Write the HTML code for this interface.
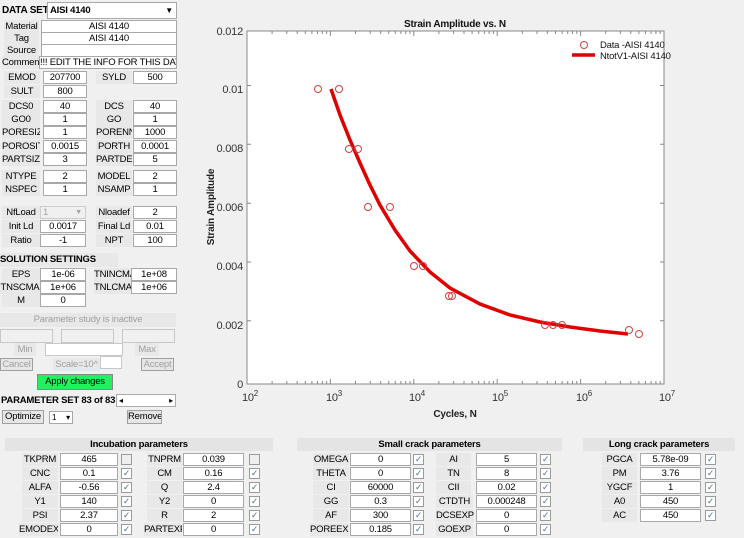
<!DOCTYPE html>
<html><head><meta charset="utf-8"><style>
body{margin:0;width:744px;height:538px;background:#f0f0f0;position:relative;overflow:hidden;font-family:"Liberation Sans",Arial,sans-serif;font-size:9.5px;color:#000;letter-spacing:-0.2px}
div{position:absolute;box-sizing:border-box;white-space:nowrap;overflow:hidden}
.l{background:#e8e8e8;text-align:center;height:13px;line-height:13px}
.i{background:#fff;border:1px solid #a8a8a8;text-align:center;height:13px;line-height:11px}
.c{background:#fff;border:1px solid #9a9a9a;width:11px;height:11px;font-size:9px;line-height:9px;text-align:center;color:#5570a0}
.b{font-weight:bold}
.g{color:#a0a0a0}
.btn{border:1px solid #a0a0a0;background:#e6e6e6;text-align:center;line-height:12px;height:14px}
.h{background:#e4e4e4;font-weight:bold;text-align:center;height:13px;line-height:13px}
</style></head><body>
<div class="b" style="left:2px;top:5px;font-size:10px">DATA SET</div>
<div class="i b" style="left:47px;top:2px;width:130px;height:17px;text-align:left;padding-left:2px;line-height:15px">AISI 4140<span style="position:absolute;right:3px;font-size:8px">▼</span></div>
<div class="l" style="left:4px;top:20px;width:35px">Material</div><div class="i" style="left:41px;top:20px;width:136px">AISI 4140</div>
<div class="l" style="left:4px;top:32px;width:35px">Tag</div><div class="i" style="left:41px;top:32px;width:136px">AISI 4140</div>
<div class="l" style="left:4px;top:44px;width:35px">Source</div><div class="i" style="left:41px;top:44px;width:136px"></div>
<div class="l" style="left:2px;top:56px;width:38px;text-align:left">Comment</div><div class="i" style="left:39px;top:56px;width:138px;text-align:left">!!! EDIT THE INFO FOR THIS DAT</div>

<div class="l" style="left:4px;top:71px;width:36px">EMOD</div><div class="i" style="left:43px;top:71px;width:44px">207700</div>
<div class="l" style="left:96px;top:71px;width:36px">SYLD</div><div class="i" style="left:133px;top:71px;width:44px">500</div>
<div class="l" style="left:4px;top:85px;width:36px">SULT</div><div class="i" style="left:43px;top:85px;width:44px">800</div>

<div class="l" style="left:2px;top:100px;width:38px">DCS0</div><div class="i" style="left:43px;top:100px;width:44px">40</div>
<div class="l" style="left:96px;top:100px;width:36px">DCS</div><div class="i" style="left:133px;top:100px;width:44px">40</div>
<div class="l" style="left:2px;top:113px;width:38px">GO0</div><div class="i" style="left:43px;top:113px;width:44px">1</div>
<div class="l" style="left:96px;top:113px;width:36px">GO</div><div class="i" style="left:133px;top:113px;width:44px">1</div>
<div class="l" style="left:2px;top:126px;width:38px;text-align:left">PORESIZ</div><div class="i" style="left:43px;top:126px;width:44px">1</div>
<div class="l" style="left:96px;top:126px;width:36px;text-align:left">PORENN</div><div class="i" style="left:133px;top:126px;width:44px">1000</div>
<div class="l" style="left:2px;top:140px;width:38px;text-align:left">POROSIT</div><div class="i" style="left:43px;top:140px;width:44px">0.0015</div>
<div class="l" style="left:96px;top:140px;width:36px">PORTH</div><div class="i" style="left:133px;top:140px;width:44px">0.0001</div>
<div class="l" style="left:2px;top:153px;width:38px;text-align:left">PARTSIZ</div><div class="i" style="left:43px;top:153px;width:44px">3</div>
<div class="l" style="left:96px;top:153px;width:36px;text-align:left">PARTDE</div><div class="i" style="left:133px;top:153px;width:44px">5</div>

<div class="l" style="left:2px;top:170px;width:38px">NTYPE</div><div class="i" style="left:43px;top:170px;width:44px">2</div>
<div class="l" style="left:96px;top:170px;width:36px">MODEL</div><div class="i" style="left:133px;top:170px;width:44px">2</div>
<div class="l" style="left:2px;top:183px;width:38px">NSPEC</div><div class="i" style="left:43px;top:183px;width:44px">1</div>
<div class="l" style="left:96px;top:183px;width:36px">NSAMP</div><div class="i" style="left:133px;top:183px;width:44px">1</div>

<div class="l" style="left:2px;top:206px;width:38px">NfLoad</div><div class="i g" style="left:40px;top:206px;width:46px;text-align:left;padding-left:2px;background:#f0f0f0;border-color:#ccc">1<span style="position:absolute;right:3px;font-size:7px">▼</span></div>
<div class="l" style="left:96px;top:206px;width:36px">Nloadef</div><div class="i" style="left:133px;top:206px;width:44px">2</div>
<div class="l" style="left:2px;top:220px;width:38px">Init Ld</div><div class="i" style="left:40px;top:220px;width:46px">0.0017</div>
<div class="l" style="left:96px;top:220px;width:36px">Final Ld</div><div class="i" style="left:133px;top:220px;width:44px">0.01</div>
<div class="l" style="left:2px;top:234px;width:38px">Ratio</div><div class="i" style="left:40px;top:234px;width:46px">-1</div>
<div class="l" style="left:96px;top:234px;width:36px">NPT</div><div class="i" style="left:133px;top:234px;width:44px">100</div>

<div class="b" style="left:0px;top:253px;width:118px;background:#e8e8e8;height:14px;line-height:14px">SOLUTION SETTINGS</div>
<div class="l" style="left:2px;top:268px;width:38px">EPS</div><div class="i" style="left:40px;top:268px;width:46px">1e-06</div>
<div class="l" style="left:94px;top:268px;width:38px;text-align:left">TNINCMA</div><div class="i" style="left:131px;top:268px;width:46px">1e+08</div>
<div class="l" style="left:0px;top:281px;width:40px">TNSCMA</div><div class="i" style="left:40px;top:281px;width:46px">1e+06</div>
<div class="l" style="left:94px;top:281px;width:38px;text-align:left">TNLCMA</div><div class="i" style="left:131px;top:281px;width:46px">1e+06</div>
<div class="l" style="left:2px;top:294px;width:38px">M</div><div class="i" style="left:40px;top:294px;width:46px">0</div>

<div class="g" style="left:0px;top:313px;width:176px;text-align:center;background:#e8e8e8;height:14px;line-height:14px">Parameter study is inactive</div>
<div class="i" style="left:0px;top:329px;width:53px;height:14px;background:#f0f0f0;border-color:#c8c8c8"></div>
<div class="i" style="left:61px;top:329px;width:53px;height:14px;background:#f0f0f0;border-color:#c8c8c8"></div>
<div class="i" style="left:122px;top:329px;width:53px;height:14px;background:#f0f0f0;border-color:#c8c8c8"></div>
<div class="g l" style="left:14px;top:343px;width:22px">Min</div>
<div class="i" style="left:45px;top:343px;width:78px;height:13px;border-color:#c8c8c8"></div>
<div class="g l" style="left:135px;top:343px;width:24px">Max</div>
<div class="btn g" style="left:0px;top:358px;width:33px;height:13px">Cancel</div>
<div class="g l" style="left:53px;top:358px;width:47px">Scale=10^</div>
<div class="i" style="left:100px;top:356px;width:22px;border-color:#c8c8c8"></div>
<div class="btn g" style="left:141px;top:358px;width:33px;height:13px">Accept</div>
<div class="btn" style="left:37px;top:374px;width:76px;height:16px;line-height:14px;background:#22f060;border-color:#888">Apply changes</div>
<div class="b" style="left:1px;top:395px;font-size:9.5px">PARAMETER SET 83 of 83</div>
<div class="i" style="left:116px;top:394px;width:60px;border-color:#aaa;text-align:left;font-size:8px">&nbsp;◂<span style="position:absolute;right:2px">▸</span></div>
<div class="btn" style="left:2px;top:410px;width:42px">Optimize</div>
<div class="i" style="left:49px;top:411px;width:24px;text-align:left;font-size:8px;padding-left:2px">1 <span style="position:absolute;right:2px">▾</span></div>
<div class="btn" style="left:127px;top:410px;width:35px">Remove</div>

<svg style="position:absolute;left:0;top:0" width="744" height="538">
<rect x="247" y="31" width="417" height="353" fill="#fff" stroke="#888"/>
<g stroke="#888" stroke-width="1">
<path d="M247,85.5h4M664,85.5h-4M247,144.3h4M664,144.3h-4M247,203.2h4M664,203.2h-4M247,262h4M664,262h-4M247,320.8h4M664,320.8h-4"/>
<path d="M330.4,384v-5M413.8,384v-5M497.2,384v-5M580.6,384v-5M330.4,31v5M413.8,31v5M497.2,31v5M580.6,31v5"/>
<path d="M272.1,384v-3M286.8,384v-3M297.2,384v-3M305.3,384v-3M311.9,384v-3M317.5,384v-3M322.3,384v-3M326.6,384v-3M355.5,384v-3M370.2,384v-3M380.6,384v-3M388.7,384v-3M395.3,384v-3M400.9,384v-3M405.7,384v-3M410,384v-3M438.9,384v-3M453.6,384v-3M464,384v-3M472.1,384v-3M478.7,384v-3M484.3,384v-3M489.1,384v-3M493.4,384v-3M522.3,384v-3M537,384v-3M547.4,384v-3M555.5,384v-3M562.1,384v-3M567.7,384v-3M572.5,384v-3M576.8,384v-3M605.7,384v-3M620.4,384v-3M630.8,384v-3M638.9,384v-3M645.5,384v-3M651.1,384v-3M655.9,384v-3M660.2,384v-3"/>
<path d="M272.1,31v3M286.8,31v3M297.2,31v3M305.3,31v3M311.9,31v3M317.5,31v3M322.3,31v3M326.6,31v3M355.5,31v3M370.2,31v3M380.6,31v3M388.7,31v3M395.3,31v3M400.9,31v3M405.7,31v3M410,31v3M438.9,31v3M453.6,31v3M464,31v3M472.1,31v3M478.7,31v3M484.3,31v3M489.1,31v3M493.4,31v3M522.3,31v3M537,31v3M547.4,31v3M555.5,31v3M562.1,31v3M567.7,31v3M572.5,31v3M576.8,31v3M605.7,31v3M620.4,31v3M630.8,31v3M638.9,31v3M645.5,31v3M651.1,31v3M655.9,31v3M660.2,31v3"/>
</g>
<g font-family="Liberation Sans,Arial,sans-serif" font-size="11" fill="#333" text-anchor="end">
<text x="243" y="35">0.012</text><text x="243" y="93">0.01</text><text x="243" y="152">0.008</text><text x="243" y="211">0.006</text><text x="243" y="270">0.004</text><text x="243" y="329">0.002</text><text x="243" y="388">0</text>
</g>
<g font-family="Liberation Sans,Arial,sans-serif" font-size="11" fill="#333" text-anchor="middle">
<text x="250" y="401">10<tspan font-size="8" dy="-5">2</tspan></text>
<text x="334" y="401">10<tspan font-size="8" dy="-5">3</tspan></text>
<text x="417" y="401">10<tspan font-size="8" dy="-5">4</tspan></text>
<text x="500" y="401">10<tspan font-size="8" dy="-5">5</tspan></text>
<text x="584" y="401">10<tspan font-size="8" dy="-5">6</tspan></text>
<text x="667" y="401">10<tspan font-size="8" dy="-5">7</tspan></text>
</g>
<text x="455" y="417" font-family="Liberation Sans,Arial,sans-serif" font-size="10" font-weight="bold" text-anchor="middle" fill="#222">Cycles, N</text>
<text x="455" y="27" font-family="Liberation Sans,Arial,sans-serif" font-size="10" font-weight="bold" text-anchor="middle" fill="#111">Strain Amplitude vs. N</text>
<text transform="translate(214,207) rotate(-90)" font-family="Liberation Sans,Arial,sans-serif" font-size="10" font-weight="bold" text-anchor="middle" fill="#222">Strain Amplitude</text>
<polyline fill="none" stroke="#e00000" stroke-width="3.5" points="331,89 340,115 350,140 360,163 370,185 380,205 395,230 410,251 430,272 450,288 480,304 510,315 540,322 570,327 600,331 628,334"/>
<g fill="none" stroke="#d04040" stroke-width="1">
<circle cx="318" cy="89" r="3.5"/><circle cx="339" cy="89" r="3.5"/><circle cx="349" cy="149" r="3.5"/><circle cx="358" cy="149" r="3.5"/><circle cx="368" cy="207" r="3.5"/><circle cx="390" cy="207" r="3.5"/><circle cx="414" cy="266" r="3.5"/><circle cx="423" cy="266" r="3.5"/><circle cx="449" cy="296" r="3.5"/><circle cx="452" cy="296" r="3.5"/><circle cx="545" cy="325" r="3.5"/><circle cx="553" cy="325" r="3.5"/><circle cx="562" cy="325" r="3.5"/><circle cx="629" cy="330" r="3.5"/><circle cx="639" cy="334" r="3.5"/>
<circle cx="584" cy="45" r="3.5"/>
</g>
<line x1="572" y1="55" x2="595" y2="55" stroke="#e00000" stroke-width="3.5"/>
<g font-family="Liberation Sans,Arial,sans-serif" font-size="9.5" fill="#111"><text x="600" y="48">Data -AISI 4140</text><text x="600" y="59">NtotV1-AISI 4140</text></g>
</svg>

<div class="h" style="left:5px;top:438px;width:268px">Incubation parameters</div>
<div class="h" style="left:297px;top:438px;width:265px">Small crack parameters</div>
<div class="h" style="left:583px;top:438px;width:152px">Long crack parameters</div>

<div class="l" style="left:22px;top:453px;width:36px">TKPRM</div><div class="i" style="left:60px;top:453px;width:58px">465</div><div class="c" style="left:121px;top:454px;background:#eee"></div>
<div class="l" style="left:22px;top:467px;width:36px">CNC</div><div class="i" style="left:60px;top:467px;width:58px">0.1</div><div class="c" style="left:121px;top:468px">✓</div>
<div class="l" style="left:22px;top:481px;width:36px">ALFA</div><div class="i" style="left:60px;top:481px;width:58px">-0.56</div><div class="c" style="left:121px;top:482px">✓</div>
<div class="l" style="left:22px;top:495px;width:36px">Y1</div><div class="i" style="left:60px;top:495px;width:58px">140</div><div class="c" style="left:121px;top:496px">✓</div>
<div class="l" style="left:22px;top:509px;width:36px">PSI</div><div class="i" style="left:60px;top:509px;width:58px">2.37</div><div class="c" style="left:121px;top:510px">✓</div>
<div class="l" style="left:19px;top:523px;width:39px;text-align:left">EMODEX</div><div class="i" style="left:60px;top:523px;width:58px">0</div><div class="c" style="left:121px;top:524px">✓</div>

<div class="l" style="left:147px;top:453px;width:35px">TNPRM</div><div class="i" style="left:183px;top:453px;width:61px">0.039</div><div class="c" style="left:249px;top:454px;background:#eee"></div>
<div class="l" style="left:147px;top:467px;width:35px">CM</div><div class="i" style="left:183px;top:467px;width:61px">0.16</div><div class="c" style="left:249px;top:468px">✓</div>
<div class="l" style="left:147px;top:481px;width:35px">Q</div><div class="i" style="left:183px;top:481px;width:61px">2.4</div><div class="c" style="left:249px;top:482px">✓</div>
<div class="l" style="left:147px;top:495px;width:35px">Y2</div><div class="i" style="left:183px;top:495px;width:61px">0</div><div class="c" style="left:249px;top:496px">✓</div>
<div class="l" style="left:147px;top:509px;width:35px">R</div><div class="i" style="left:183px;top:509px;width:61px">2</div><div class="c" style="left:249px;top:510px">✓</div>
<div class="l" style="left:144px;top:523px;width:38px;text-align:left">PARTEXP</div><div class="i" style="left:183px;top:523px;width:61px">0</div><div class="c" style="left:249px;top:524px">✓</div>

<div class="l" style="left:313px;top:453px;width:36px">OMEGA</div><div class="i" style="left:350px;top:453px;width:61px">0</div><div class="c" style="left:413px;top:454px">✓</div>
<div class="l" style="left:313px;top:467px;width:36px">THETA</div><div class="i" style="left:350px;top:467px;width:61px">0</div><div class="c" style="left:413px;top:468px">✓</div>
<div class="l" style="left:313px;top:481px;width:36px">CI</div><div class="i" style="left:350px;top:481px;width:61px">60000</div><div class="c" style="left:413px;top:482px">✓</div>
<div class="l" style="left:313px;top:495px;width:36px">GG</div><div class="i" style="left:350px;top:495px;width:61px">0.3</div><div class="c" style="left:413px;top:496px">✓</div>
<div class="l" style="left:313px;top:509px;width:36px">AF</div><div class="i" style="left:350px;top:509px;width:61px">300</div><div class="c" style="left:413px;top:510px">✓</div>
<div class="l" style="left:310px;top:523px;width:39px;text-align:left">POREEXP</div><div class="i" style="left:350px;top:523px;width:61px">0.185</div><div class="c" style="left:413px;top:524px">✓</div>

<div class="l" style="left:436px;top:453px;width:35px">AI</div><div class="i" style="left:476px;top:453px;width:61px">5</div><div class="c" style="left:540px;top:454px">✓</div>
<div class="l" style="left:436px;top:467px;width:35px">TN</div><div class="i" style="left:476px;top:467px;width:61px">8</div><div class="c" style="left:540px;top:468px">✓</div>
<div class="l" style="left:436px;top:481px;width:35px">CII</div><div class="i" style="left:476px;top:481px;width:61px">0.02</div><div class="c" style="left:540px;top:482px">✓</div>
<div class="l" style="left:436px;top:495px;width:37px">CTDTH</div><div class="i" style="left:476px;top:495px;width:61px">0.000248</div><div class="c" style="left:540px;top:496px">✓</div>
<div class="l" style="left:436px;top:509px;width:38px;text-align:left">DCSEXP</div><div class="i" style="left:476px;top:509px;width:61px">0</div><div class="c" style="left:540px;top:510px">✓</div>
<div class="l" style="left:436px;top:523px;width:37px">GOEXP</div><div class="i" style="left:476px;top:523px;width:61px">0</div><div class="c" style="left:540px;top:524px">✓</div>

<div class="l" style="left:602px;top:453px;width:35px">PGCA</div><div class="i" style="left:640px;top:453px;width:61px">5.78e-09</div><div class="c" style="left:705px;top:454px">✓</div>
<div class="l" style="left:602px;top:467px;width:35px">PM</div><div class="i" style="left:640px;top:467px;width:61px">3.76</div><div class="c" style="left:705px;top:468px">✓</div>
<div class="l" style="left:602px;top:481px;width:35px">YGCF</div><div class="i" style="left:640px;top:481px;width:61px">1</div><div class="c" style="left:705px;top:482px">✓</div>
<div class="l" style="left:602px;top:495px;width:35px">A0</div><div class="i" style="left:640px;top:495px;width:61px">450</div><div class="c" style="left:705px;top:496px">✓</div>
<div class="l" style="left:602px;top:509px;width:35px">AC</div><div class="i" style="left:640px;top:509px;width:61px">450</div><div class="c" style="left:705px;top:510px">✓</div>
</body></html>
